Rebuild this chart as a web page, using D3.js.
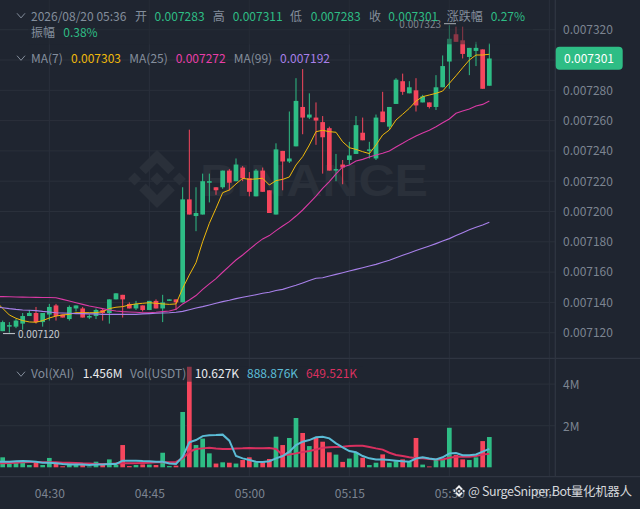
<!DOCTYPE html>
<html>
<head>
<meta charset="utf-8">
<script src="https://cdn.jsdelivr.net/npm/d3@7"></script>
<style>
    html, body { margin: 0; padding: 0; background: #1f2530; overflow: hidden; }
    text { font-family: "Noto Sans CJK SC", "Noto Sans", sans-serif; }
</style>
</head>
<body>
<div id="chart"></div>
<script>
// Prices are in millionths (7283 = 0.007283), volumes in millions
// One candle a minute, first one is 04:23
let startMinute = new Date(2026, 7, 20, 4, 23);

let opens = [7121, 7124, 7124, 7126, 7131, 7133, 7127, 7132, 7138, 7132, 7129, 7136, 7136, 7130, 7131, 7135, 7133, 7142, 7145, 7139,
    7136, 7138, 7135, 7141, 7136, 7141, 7142, 7140, 7208, 7197, 7198, 7219, 7216, 7216, 7227, 7220, 7229, 7222, 7210, 7227,
    7214, 7198, 7240, 7233, 7243, 7269, 7262, 7262, 7259, 7255, 7227, 7231, 7234, 7238, 7252, 7240, 7235, 7266, 7256, 7271,
    7286, 7278, 7280, 7272, 7272, 7269, 7282, 7299, 7317, 7313, 7302, 7306, 7307, 7283];
let highs = [7128, 7127, 7129, 7133, 7135, 7137, 7133, 7139, 7139, 7132, 7138, 7138, 7137, 7132, 7136, 7136, 7142, 7146, 7145, 7140,
    7141, 7138, 7141, 7142, 7145, 7142, 7142, 7216, 7254, 7216, 7225, 7225, 7216, 7227, 7228, 7235, 7230, 7226, 7228, 7229,
    7214, 7245, 7240, 7266, 7288, 7294, 7278, 7272, 7263, 7256, 7238, 7234, 7246, 7263, 7262, 7246, 7264, 7279, 7269, 7288,
    7291, 7286, 7288, 7277, 7272, 7290, 7303, 7323, 7322, 7322, 7308, 7312, 7307, 7311];
let lows = [7121, 7120, 7123, 7122, 7131, 7126, 7124, 7128, 7128, 7130, 7128, 7134, 7130, 7129, 7129, 7128, 7126, 7142, 7130, 7136,
    7135, 7134, 7135, 7136, 7127, 7141, 7135, 7140, 7198, 7187, 7198, 7206, 7211, 7215, 7214, 7220, 7220, 7210, 7210, 7213,
    7199, 7198, 7214, 7232, 7243, 7251, 7261, 7244, 7225, 7227, 7220, 7218, 7231, 7238, 7247, 7235, 7234, 7259, 7254, 7271,
    7277, 7278, 7266, 7272, 7268, 7267, 7282, 7281, 7312, 7301, 7290, 7296, 7281, 7283];
let closes = [7127, 7125, 7128, 7131, 7133, 7127, 7133, 7137, 7131, 7130, 7137, 7138, 7130, 7131, 7135, 7133, 7142, 7146, 7142, 7136,
    7139, 7135, 7141, 7136, 7140, 7142, 7140, 7208, 7198, 7199, 7220, 7220, 7214, 7227, 7219, 7231, 7222, 7213, 7227, 7213,
    7199, 7241, 7233, 7235, 7273, 7262, 7264, 7260, 7249, 7227, 7228, 7229, 7237, 7257, 7247, 7241, 7262, 7259, 7269, 7287,
    7279, 7282, 7270, 7276, 7269, 7282, 7296, 7314, 7312, 7304, 7308, 7308, 7281, 7301];
let volumes = [0.48, 0.16, 0.27, 0.30, 0.11, 0.27, 0.11, 0.45, 0.16, 0.05, 0.19, 0.11, 0.11, 0.04, 0.27, 0.11, 0.38, 0.11, 1.07, 0.06,
    0.11, 0.14, 0.13, 0.11, 0.70, 0.06, 0.08, 2.66, 4.83, 1.07, 1.38, 0.67, 0.18, 0.24, 0.22, 0.18, 0.35, 0.48, 0.24, 0.24,
    0.40, 1.47, 1.07, 1.41, 2.37, 1.65, 1.02, 1.41, 1.23, 0.72, 0.61, 0.26, 0.42, 0.70, 0.46, 0.11, 0.22, 0.62, 0.22, 0.29,
    0.38, 0.26, 1.41, 0.13, 0.04, 0.35, 0.35, 1.90, 0.59, 0.38, 0.35, 0.48, 1.26, 1.456];

// The lines start one minute earlier so they run off the left edge
let ma7 = [7140.5, 7136.1, 7131.7, 7129.5, 7128, 7127.1, 7126.9, 7128, 7129.7, 7131, 7131.7, 7132.1, 7133.2, 7133.2, 7133.2, 7133.2, 7133.9, 7135.9, 7136.8, 7137.2,
    7138.3, 7139, 7139.4, 7139.8, 7139.4, 7139, 7138.7, 7139, 7149.3, 7158.1, 7166.2, 7180.1, 7192.2, 7202.1, 7212.4, 7214.2, 7218.2, 7221.9, 7221.2, 7221.5,
    7221.9, 7217.5, 7220.4, 7221.2, 7222.8, 7230.7, 7236.2, 7243.9, 7252.7, 7253.6, 7252.7, 7252.3, 7246, 7242.1, 7241, 7239.5, 7238.2, 7243.9, 7250.5, 7253.8,
    7260.4, 7264.2, 7268.1, 7272.9, 7275.8, 7276.9, 7278, 7279.5, 7284.6, 7289.6, 7294.9, 7300, 7303.3, 7303.3, 7303.8];
let ma25 = [7143.9, 7143.8, 7143.7, 7143.6, 7143.5, 7143.4, 7143.3, 7143.2, 7143.2, 7143.1, 7142, 7140.9, 7139.8, 7138.7, 7137.6, 7136.8, 7135.9, 7135, 7134.3, 7133.9,
    7133.7, 7133.5, 7133.2, 7133.2, 7133.5, 7133.9, 7134.3, 7135.4, 7139, 7141.6, 7144.5, 7148.6, 7152.2, 7155.7, 7159.9, 7164, 7168, 7171.3, 7175, 7178.6,
    7181.9, 7184.1, 7187.4, 7190.4, 7193.3, 7197, 7201, 7205.6, 7210.2, 7215.3, 7219.7, 7224.8, 7229.4, 7230.7, 7233.3, 7234.4, 7236, 7237.3, 7238.4, 7239.9,
    7242.6, 7245, 7247.6, 7249.8, 7251.8, 7253.6, 7256, 7258.6, 7261.1, 7264.8, 7266.3, 7267.7, 7269.6, 7270.7, 7272.9];
let ma99 = [7137, 7136.5, 7135.9, 7135.4, 7135, 7134.8, 7134.6, 7134.1, 7133.7, 7133.2, 7133, 7132.8, 7132.6, 7132.6, 7132.4, 7132.4, 7132.1, 7132.1, 7132.1, 7132.1,
    7132.1, 7132.1, 7132.4, 7132.6, 7132.8, 7133, 7133.2, 7133.5, 7134.1, 7135.2, 7136.3, 7137.2, 7138.3, 7139.4, 7140.5, 7141.4, 7142.5, 7143.4, 7144.2, 7145.1,
    7146, 7146.7, 7147.8, 7148.6, 7150, 7151.3, 7152.8, 7154.4, 7155.9, 7156.3, 7157.4, 7158.5, 7159.6, 7160.7, 7161.8, 7162.9, 7164, 7165.1, 7166.5, 7167.8,
    7169.5, 7171.1, 7172.6, 7174.2, 7175.7, 7177.2, 7178.8, 7180.5, 7182.1, 7184.1, 7186, 7188, 7189.6, 7191.1, 7192.9];
let volShort = [0.27, 0.27, 0.27, 0.29, 0.30, 0.29, 0.27, 0.22, 0.22, 0.19, 0.16, 0.14, 0.13, 0.13, 0.11, 0.13, 0.14, 0.16, 0.16, 0.32,
    0.32, 0.32, 0.30, 0.29, 0.27, 0.27, 0.18, 0.16, 0.51, 1.20, 1.31, 1.50, 1.54, 1.55, 1.57, 1.28, 0.54, 0.43, 0.35, 0.27,
    0.26, 0.29, 0.43, 0.54, 0.75, 1.07, 1.23, 1.31, 1.44, 1.47, 1.39, 1.15, 0.96, 0.78, 0.72, 0.54, 0.43, 0.38, 0.37, 0.35,
    0.32, 0.29, 0.27, 0.42, 0.48, 0.42, 0.38, 0.48, 0.67, 0.69, 0.58, 0.58, 0.62, 0.75, 0.889];
let volLong = [0.19, 0.19, 0.21, 0.22, 0.24, 0.26, 0.26, 0.24, 0.24, 0.24, 0.22, 0.22, 0.21, 0.19, 0.18, 0.16, 0.16, 0.16, 0.18, 0.19,
    0.19, 0.19, 0.21, 0.22, 0.24, 0.24, 0.24, 0.26, 0.43, 0.75, 0.88, 0.91, 0.94, 0.90, 0.88, 0.88, 0.90, 0.91, 0.93, 0.91,
    0.91, 0.93, 0.88, 0.59, 0.62, 0.67, 0.74, 0.78, 0.86, 0.94, 0.96, 0.98, 0.99, 1.02, 1.04, 1.04, 0.98, 0.91, 0.85, 0.70,
    0.59, 0.54, 0.48, 0.43, 0.43, 0.40, 0.38, 0.38, 0.46, 0.51, 0.51, 0.51, 0.54, 0.61, 0.65];

let priceTicks = [7120, 7140, 7160, 7180, 7200, 7220, 7240, 7260, 7280, 7300, 7320];
let priceLabels = [7120, 7140, 7160, 7180, 7200, 7220, 7240, 7260, 7280, 7320];
let volTicks = [2, 4];
let timeTicks = ['04:30', '04:45', '05:00', '05:15', '05:30', '05:45'];

let green = '#2ebd85', red = '#f6465d', bg = '#1f2530', grid = '#2a303b', muted = '#848e9c';
let width = 640, height = 509, plotRight = 555.3;

let svg = d3.select('#chart').append('svg')
    .attr('width', width)
    .attr('height', height)
    .style('display', 'block');
svg.append('rect').attr('width', width).attr('height', height).attr('fill', bg);

// Scales
let parseTime = d3.timeParse('%H:%M');
let minuteAt = i => d3.timeMinute.offset(startMinute, i);
let x = d3.scaleTime()
    .domain([startMinute, minuteAt(73)])
    .range([2.67, 489.33]);
let y = d3.scaleLinear().domain([7120, 7320]).range([332.7, 29.7]);
let yVol = d3.scaleLinear().domain([0, 4]).range([467.3, 384.1]);
let barWidth = 4.7;

svg.append('defs').append('clipPath').attr('id', 'plotClip')
    .append('rect').attr('width', plotRight).attr('height', height);

// Grid
let gridG = svg.append('g').attr('stroke', grid).attr('stroke-width', 1);
gridG.selectAll('line.h').data(priceTicks).enter().append('line')
    .attr('x1', 0).attr('x2', plotRight)
    .attr('y1', d => y(d)).attr('y2', d => y(d));
gridG.selectAll('line.hv').data(volTicks).enter().append('line')
    .attr('x1', 0).attr('x2', plotRight)
    .attr('y1', d => yVol(d)).attr('y2', d => yVol(d));
gridG.selectAll('line.v').data(timeTicks).enter().append('line')
    .attr('x1', d => x(toDate(d))).attr('x2', d => x(toDate(d)))
    .attr('y1', 0).attr('y2', 476.7);

function toDate(label) {
    let t = parseTime(label);
    let d = new Date(startMinute);
    d.setHours(t.getHours(), t.getMinutes());
    return d;
}

// Watermark
let mark = svg.append('g').attr('fill', '#2a303a');
mark.append('path')
    .attr('transform', 'translate(128,150) scale(0.458)')
    .attr('d', 'm38.73 53.2 24.59-24.58 24.6 24.6 14.3-14.31L63.32 0 24.43 38.9zM0 63.31l14.3-14.31 14.31 14.31-14.31 14.3zM38.73 73.41l24.59 24.59 24.6-24.6 14.31 14.29-38.9 38.91-38.91-38.88-.02-.02zM98 63.31l14.3-14.31 14.31 14.3-14.31 14.32zM77.83 63.3 63.32 48.78 52.59 59.51l-1.24 1.23-2.54 2.54 14.51 14.5 14.51-14.47z');
mark.append('text')
    .attr('x', 200).attr('y', 195.5)
    .attr('textLength', 228).attr('lengthAdjust', 'spacingAndGlyphs')
    .style('font-family', '"Liberation Sans", sans-serif')
    .style('font-weight', 'bold')
    .style('font-size', '44px')
    .text('BINANCE');

// Candles
let candles = opens.map((o, i) => ({
    time: minuteAt(i), open: o, high: highs[i], low: lows[i], close: closes[i], volume: volumes[i]
}));
let candleColor = d => d.close >= d.open ? green : red;

let candleG = svg.append('g').attr('clip-path', 'url(#plotClip)');
candleG.selectAll('line.wick').data(candles).enter().append('line')
    .attr('x1', d => x(d.time)).attr('x2', d => x(d.time))
    .attr('y1', d => y(d.high)).attr('y2', d => y(d.low))
    .attr('stroke', candleColor).attr('stroke-width', 1);
candleG.selectAll('rect.body').data(candles).enter().append('rect')
    .attr('x', d => x(d.time) - barWidth / 2)
    .attr('width', barWidth)
    .attr('y', d => y(Math.max(d.open, d.close)))
    .attr('height', d => Math.max(1.5, Math.abs(y(d.open) - y(d.close))))
    .attr('fill', candleColor);

// Volume bars
candleG.selectAll('rect.vol').data(candles).enter().append('rect')
    .attr('x', d => x(d.time) - barWidth / 2)
    .attr('width', barWidth)
    .attr('y', d => yVol(d.volume))
    .attr('height', d => yVol(0) - yVol(d.volume))
    .attr('fill', candleColor);

// Lines, first point is 04:22
let lineOf = scale => d3.line().x((d, i) => x(minuteAt(i - 1))).y(d => scale(d));
[[ma7, '#f0b90b', 1], [ma25, '#d93aa5', 1.1], [ma99, '#a880ea', 1.1]].forEach(([values, color, w]) => {
    candleG.append('path').attr('d', lineOf(y)(values))
        .attr('fill', 'none').attr('stroke', color).attr('stroke-width', w);
});
[[volLong, '#d9305f'], [volShort, '#5bbcd6']].forEach(([values, color]) => {
    candleG.append('path').attr('d', lineOf(yVol)(values))
        .attr('fill', 'none').attr('stroke', color).attr('stroke-width', 2);
});

// Legend rows have a half see-through backing that dims the marks under them
svg.append('rect').attr('x', 28).attr('y', 0).attr('width', 505).attr('height', 44.3)
    .attr('fill', bg).attr('opacity', 0.5);
svg.append('rect').attr('x', 28).attr('y', 366.7).attr('width', 335).attr('height', 15)
    .attr('fill', bg).attr('opacity', 0.5);

// Frame lines
let frame = svg.append('g').attr('stroke', '#2f3541').attr('stroke-width', 1.3);
frame.append('line').attr('x1', 0).attr('x2', width).attr('y1', 358.3).attr('y2', 358.3);
frame.append('line').attr('x1', 0).attr('x2', width).attr('y1', 476.7).attr('y2', 476.7);
frame.append('line').attr('x1', plotRight).attr('x2', plotRight).attr('y1', 0).attr('y2', 476.7);

// Axes
let yAxis = d3.axisRight(y).tickValues(priceLabels).tickSize(0).tickPadding(7.7)
    .tickFormat(d => (d / 1e6).toFixed(6));
let volAxis = d3.axisRight(yVol).tickValues(volTicks).tickSize(0).tickPadding(7.7)
    .tickFormat(d => d + 'M');
let xAxis = d3.axisBottom(x).tickValues(timeTicks.map(toDate)).tickSize(0).tickPadding(12.5)
    .tickFormat(d3.timeFormat('%H:%M'));

[svg.append('g').attr('transform', `translate(${plotRight}, 0)`).call(yAxis),
 svg.append('g').attr('transform', `translate(${plotRight}, 1)`).call(volAxis),
 svg.append('g').attr('transform', 'translate(0, 477)').attr('clip-path', 'url(#plotClip)').call(xAxis)
].forEach(g => {
    g.select('.domain').remove();
    g.selectAll('text').attr('fill', '#7c8490').style('font-size', '12px').style('font-family', '"Noto Sans CJK SC", sans-serif');
});

// Last price tag
svg.append('rect').attr('x', 555.7).attr('y', 46.7).attr('width', 67).attr('height', 23)
    .attr('rx', 4).attr('fill', green);
svg.append('text').attr('x', 564).attr('y', 62.7).attr('fill', '#ffffff')
    .style('font-size', '12px').text('0.007301');

// High and low notes
svg.append('line').attr('x1', 444).attr('x2', 456).attr('y1', 23.7).attr('y2', 23.7)
    .attr('stroke', '#a9aeb6').attr('stroke-width', 1);
svg.append('text').attr('x', 441).attr('y', 28).attr('text-anchor', 'end').attr('fill', '#80868f')
    .style('font-size', '10px').text('0.007323');
svg.append('line').attr('x1', 3).attr('x2', 15).attr('y1', 333.6).attr('y2', 333.6)
    .attr('stroke', '#c8ccd2').attr('stroke-width', 1);
svg.append('text').attr('x', 18).attr('y', 338).attr('fill', '#c8ccd2')
    .style('font-size', '10px').text('0.007120');

// Legend text
let legendItems = [
    [31, 21, muted, '2026/08/20 05:36'], [135, 21, muted, '开'], [154.6, 21, green, '0.007283'],
    [212.7, 21, muted, '高'], [232.7, 21, green, '0.007311'], [290, 21, muted, '低'],
    [310.7, 21, green, '0.007283'], [369, 21, muted, '收'], [388.3, 21, green, '0.007301'],
    [446.7, 21, muted, '涨跌幅'], [490.7, 21, green, '0.27%'],
    [31, 37, muted, '振幅'], [63.3, 37, green, '0.38%'],
    [31, 63, muted, 'MA(7)'], [71, 63, '#f0b90b', '0.007303'],
    [129.3, 63, muted, 'MA(25)'], [175.7, 63, '#e93ea8', '0.007272'],
    [233.7, 63, muted, 'MA(99)'], [280, 63, '#a880ea', '0.007192'],
    [31, 378, muted, 'Vol(XAI)'], [82.7, 378, '#eaecef', '1.456M'],
    [130, 378, muted, 'Vol(USDT)'], [194.7, 378, '#eaecef', '10.627K'],
    [247, 378, '#5bbcd6', '888.876K'], [306, 378, '#d9305f', '649.521K']
];
svg.selectAll('text.legend').data(legendItems).enter().append('text')
    .attr('class', 'legend')
    .attr('x', d => d[0]).attr('y', d => d[1]).attr('fill', d => d[2])
    .style('font-size', '12px')
    .text(d => d[3]);

// Collapse arrows
[13.3, 55.7, 371.7].forEach(top => {
    svg.append('path')
        .attr('d', `M17,${top} L21,${top + 4.6} L25,${top}`)
        .attr('fill', 'none').attr('stroke', muted).attr('stroke-width', 1);
});

// Square logo credit over the bottom right
svg.append('path')
    .attr('transform', 'translate(453,485) scale(0.095)')
    .attr('fill', '#f0f1f3')
    .attr('d', 'm38.73 53.2 24.59-24.58 24.6 24.6 14.3-14.31L63.32 0 24.43 38.9zM0 63.31l14.3-14.31 14.31 14.31-14.31 14.3zM38.73 73.41l24.59 24.59 24.6-24.6 14.31 14.29-38.9 38.91-38.91-38.88-.02-.02zM98 63.31l14.3-14.31 14.31 14.3-14.31 14.32zM77.83 63.3 63.32 48.78 52.59 59.51l-1.24 1.23-2.54 2.54 14.51 14.5 14.51-14.47z');
svg.append('text').attr('x', 468).attr('y', 496).attr('fill', '#d5d7db')
    .style('font-size', '12.5px')
    .attr('textLength', 164).attr('lengthAdjust', 'spacing')
    .text('@ SurgeSniper.Bot量化机器人');
</script>
</body>
</html>
